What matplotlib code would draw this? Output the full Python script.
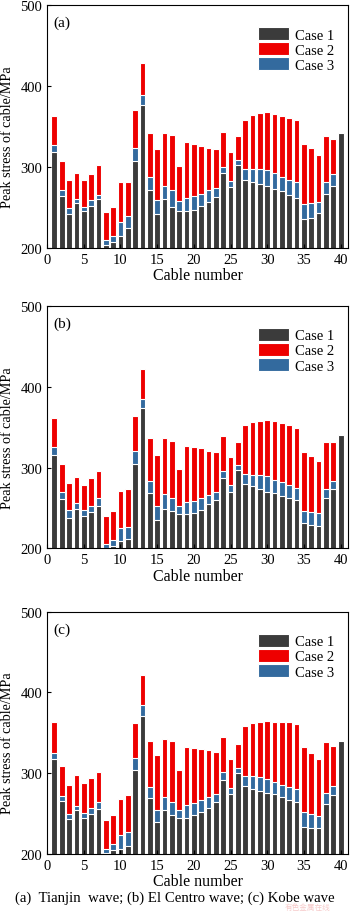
import matplotlib
matplotlib.use("Agg")
import matplotlib.pyplot as plt
import numpy as np

cables = list(range(1, 41))

# Panel (a) Tianjin wave
case1_a = [319, 264, 242, 256, 246, 252, 260, 204, 207, 215, 225, 307, 376, 272, 242, 260, 250, 246, 246, 247,
           252, 257, 263, 292, 275, 302, 284, 282, 279, 276, 273, 270, 266, 262, 236, 237, 243, 267, 277, 342]
case2_a = [363, 307, 284, 293, 284, 291, 302, 245, 251, 282, 281, 370, 428, 342, 322, 342, 339, 301, 331, 328,
           326, 324, 322, 343, 318, 338, 358, 364, 367, 368, 366, 363, 360, 358, 329, 323, 315, 338, 334, 342]
case3_a = [327, 272, 249, 261, 251, 259, 265, 210, 215, 232, 240, 324, 389, 288, 259, 276, 272, 258, 262, 264,
           267, 271, 274, 300, 283, 309, 297, 298, 297, 296, 293, 288, 284, 281, 254, 255, 257, 282, 291, 342]

# Panel (b) El Centro wave
case1_b = [316, 261, 238, 249, 240, 245, 253, 201, 203, 209, 212, 305, 373, 269, 235, 249, 246, 242, 242, 244,
           247, 255, 260, 287, 270, 297, 280, 277, 273, 270, 268, 265, 262, 260, 231, 229, 228, 262, 274, 340]
case2_b = [361, 305, 281, 288, 279, 287, 296, 240, 246, 271, 274, 364, 422, 337, 316, 336, 333, 298, 327, 325,
           324, 321, 319, 339, 313, 332, 352, 356, 358, 359, 358, 355, 353, 349, 319, 314, 308, 332, 331, 340]
case3_b = [326, 270, 247, 256, 247, 253, 262, 205, 211, 225, 227, 320, 385, 284, 253, 267, 262, 253, 257, 259,
           262, 266, 270, 296, 278, 303, 292, 291, 291, 289, 285, 282, 279, 275, 246, 245, 244, 274, 284, 340]

# Panel (c) Kobe wave
case1_c = [318, 265, 243, 254, 244, 250, 256, 201, 205, 206, 210, 304, 371, 269, 239, 255, 248, 244, 244, 248,
           252, 257, 264, 291, 274, 300, 284, 281, 278, 276, 274, 271, 267, 264, 234, 232, 232, 262, 273, 340]
case2_c = [364, 309, 286, 298, 288, 294, 301, 242, 248, 268, 273, 362, 422, 340, 322, 342, 340, 304, 332, 331,
           330, 329, 326, 345, 317, 336, 358, 362, 364, 365, 364, 364, 363, 361, 332, 325, 318, 339, 334, 340]
case3_c = [325, 272, 249, 260, 251, 257, 264, 206, 212, 223, 227, 319, 385, 283, 255, 271, 264, 255, 261, 263,
           267, 271, 274, 301, 282, 307, 297, 296, 295, 293, 289, 286, 283, 280, 252, 249, 247, 276, 284, 340]

panel_labels = ["(a)", "(b)", "(c)"]
legend_labels = ["Case 1", "Case 2", "Case 3"]
caption = "(a)  Tianjin  wave; (b) El Centro wave; (c) Kobe wave"

plt.rcParams['font.family'] = ['Liberation Serif', 'DejaVu Serif']

c_dark = '#3b3b3b'
c_red = '#ee0000'
c_blue = '#336a9e'

fig = plt.figure(figsize=(3.5, 9.12), dpi=100)

boxes = [(0.727, 0.9934), (0.3975, 0.6637), (0.0625, 0.3282)]
data = [(case1_a, case2_a, case3_a), (case1_b, case2_b, case3_b), (case1_c, case2_c, case3_c)]

left = 47 / 350
right = 348 / 350
for (b, t), (c1, c2, c3), lab in zip(boxes, data, panel_labels):
    ax = fig.add_axes([left, b, right - left, t - b])
    x = np.array(cables)
    w = 0.78
    h2 = ax.bar(x, c2, width=w, color=c_red, edgecolor='white', linewidth=0.8)
    h3 = ax.bar(x, c3, width=w, color=c_blue, edgecolor='white', linewidth=0.8)
    h1 = ax.bar(x, c1, width=w, color=c_dark, edgecolor='white', linewidth=0.8)
    ax.set_xlim(0, 41)
    ax.set_ylim(200, 500)
    ax.set_xticks([0, 5, 10, 15, 20, 25, 30, 35, 40])
    ax.set_yticks([200, 300, 400, 500])
    ax.tick_params(direction='in', labelsize=10.5, length=3, width=0.8)
    ax.set_xlabel("Cable number", fontsize=11.5, labelpad=1)
    ax.set_ylabel("Peak stress of cable/MPa", fontsize=10.2)
    ax.yaxis.set_label_coords(-0.108, 0.46)
    for s in ax.spines.values():
        s.set_linewidth(0.8)
    ax.text(0.02, 0.955, lab, transform=ax.transAxes, fontsize=11, va='top', ha='left')
    ax.legend([h1, h2, h3], legend_labels, loc='upper right', bbox_to_anchor=(0.985, 0.945),
              frameon=False, fontsize=10.5, handlelength=2.1, handleheight=0.98,
              handletextpad=0.45, labelspacing=0.05, borderaxespad=0.2)

fig.text(0.5, 0.0075, caption, ha='center', va='bottom', fontsize=10.6)
fig.text(0.88, 0.0005, "有色金属在线", ha='center', va='bottom', fontsize=5.5,
         color='#f3b5b5', alpha=0.7, family=['Noto Sans CJK SC', 'DejaVu Sans'])

fig.savefig("out.png", dpi=100)
